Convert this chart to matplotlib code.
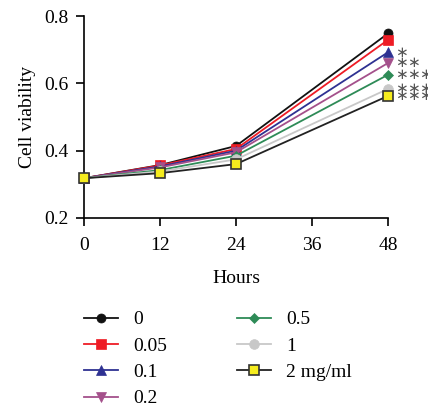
import numpy as np
import matplotlib.pyplot as plt

plt.rcParams['font.family'] = ['Liberation Serif', 'DejaVu Serif']

hours = [0, 12, 24, 48]
labels = ['0', '0.05', '0.1', '0.2', '0.5', '1', '2 mg/ml']
v0 = [0.318, 0.357, 0.414, 0.749]
v005 = [0.318, 0.356, 0.405, 0.730]
v01 = [0.318, 0.353, 0.400, 0.693]
v02 = [0.318, 0.350, 0.395, 0.661]
v05 = [0.318, 0.342, 0.385, 0.626]
v1 = [0.318, 0.338, 0.374, 0.584]
v2 = [0.318, 0.333, 0.360, 0.563]
nstars = [0, 0, 1, 2, 3, 3, 3]

series = [v0, v005, v01, v02, v05, v1, v2]
colors = ['#111111', '#ee1c25', '#2e3192', '#a4508b', '#2e8b57', '#c8c8c8', '#222222']
mfc = ['#111111', '#ee1c25', '#2e3192', '#a4508b', '#2e8b57', '#c8c8c8', '#f5ec1e']
markers = ['o', 's', '^', 'v', 'D', 'o', 's']
msizes = [6.5, 7.5, 6.5, 6.5, 5.5, 7, 7.5]

fig = plt.figure(figsize=(4.28, 4.15), dpi=100)
ax = fig.add_axes([0.196, 0.475, 0.711, 0.486])

handles = []
for vals, c, fc, m, ms, lab in zip(series, colors, mfc, markers, msizes, labels):
    yellow = fc == '#f5ec1e'
    h, = ax.plot(hours, vals, color=c, lw=1.3, marker=m, ms=ms, mfc=fc,
                 mec='#333333' if yellow else c, mew=1.2 if yellow else 0.5,
                 label=lab, clip_on=False, zorder=3)
    handles.append(h)

# significance stars, one glyph each so the spacing can be set
for vals, n in zip(series, nstars):
    for i in range(n):
        ax.annotate('\u2217', (hours[-1], vals[-1]), xytext=(9.5 + i * 8.6, 0),
                    textcoords='offset points', fontsize=11, color='#555555',
                    va='center', ha='center', family='DejaVu Sans',
                    annotation_clip=False)

ax.set_xlim(0, 48)
ax.set_ylim(0.2, 0.8)
ax.set_xticks([0, 12, 24, 36, 48])
ax.set_yticks([0.2, 0.4, 0.6, 0.8])
ax.spines['top'].set_visible(False)
ax.spines['right'].set_visible(False)
ax.spines['left'].set_linewidth(1.2)
ax.spines['bottom'].set_linewidth(1.2)
ax.tick_params(direction='out', length=6, width=1.2, labelsize=14)
ax.tick_params(axis='x', pad=7.5)
ax.tick_params(axis='y', pad=5)
ax.set_xlabel('Hours', fontsize=14, labelpad=12)
ax.set_ylabel('Cell viability', fontsize=14, labelpad=6)

fig.legend(handles=handles, ncol=2, loc='upper left', bbox_to_anchor=(0.178, 0.27),
           frameon=False, fontsize=14, handlelength=1.75, handletextpad=0.77,
           labelspacing=0.45, columnspacing=3.6, borderaxespad=0)

fig.savefig('out.png', dpi=100)
